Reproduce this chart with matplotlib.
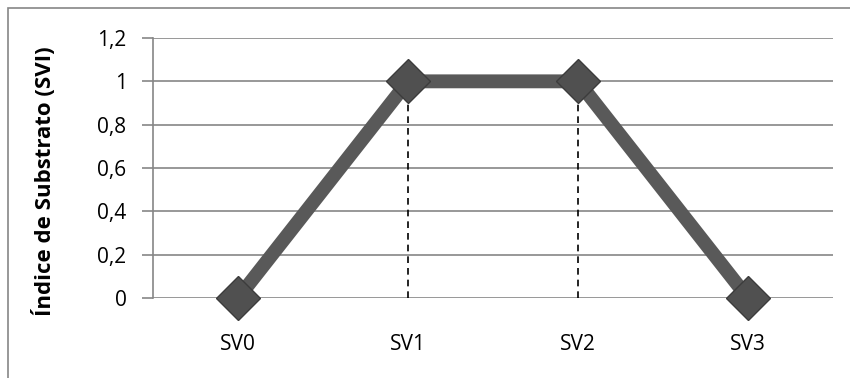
import matplotlib
matplotlib.use("Agg")
import matplotlib.pyplot as plt
from matplotlib.patches import Rectangle

# chart data
categories = ["SV0", "SV1", "SV2", "SV3"]
svi_values = [0, 1, 1, 0]
drop_lines = ["SV1", "SV2"]   # categories with a dashed drop line
y_ticks = [0, 0.2, 0.4, 0.6, 0.8, 1.0, 1.2]
y_tick_labels = ["0", "0,2", "0,4", "0,6", "0,8", "1", "1,2"]

plt.rcParams['font.family'] = ['Open Sans', 'DejaVu Sans']

fig = plt.figure(figsize=(8.5, 3.78), dpi=100)
ax = fig.add_axes([153 / 850, 80 / 378, 680 / 850, 260 / 378])

x = list(range(len(categories)))

# horizontal gridlines
for yv in y_ticks:
    ax.axhline(yv, color='#868686', linewidth=1.2, zorder=1)

# dashed drop lines
for cat in drop_lines:
    i = categories.index(cat)
    ax.vlines(i, 0, svi_values[i], colors='black', linestyles=(0, (4, 3)),
              linewidth=1.2, zorder=2)

ax.plot(x, svi_values, color='#595959', linewidth=10, solid_capstyle='butt',
        zorder=3, clip_on=False)
ax.plot(x, svi_values, linestyle='none', marker='D', markersize=22,
        markerfacecolor='#505050', markeredgecolor='#3c3c3c',
        markeredgewidth=1, zorder=4, clip_on=False)

ax.set_xlim(-0.5, len(categories) - 0.5)
ax.set_ylim(0, 1.2)
ax.set_xticks(x)
ax.set_xticklabels(categories, fontsize=15)
ax.set_yticks(y_ticks)
ax.set_yticklabels(y_tick_labels, fontsize=15)
ax.tick_params(axis='x', length=0, pad=26)
ax.tick_params(axis='y', length=8, color='#868686', width=1.2, pad=11)

for side in ['top', 'right', 'bottom']:
    ax.spines[side].set_visible(False)
ax.spines['left'].set_color('#868686')
ax.spines['left'].set_linewidth(1.2)

ax.set_ylabel("Índice de Substrato (SVI)", fontsize=16, fontweight='bold')
ax.yaxis.set_label_coords(-0.143, 0.45)

# outer chart border
fig.patches.append(Rectangle((8 / 850, -0.1), 1.0, (378 - 8) / 378 + 0.1,
                             transform=fig.transFigure, fill=False,
                             edgecolor='#868686', linewidth=1.2))

fig.savefig("out.png", dpi=100)
